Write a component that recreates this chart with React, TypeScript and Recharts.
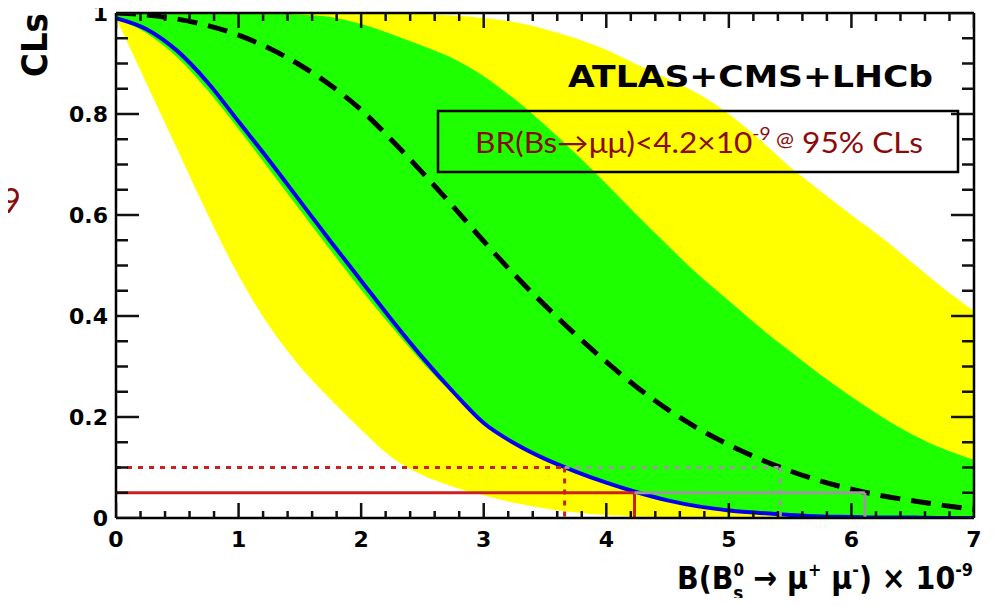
import React from 'react'
import { ComposedChart, Area, Line, Scatter, XAxis, YAxis, ReferenceLine } from 'recharts'

// B(Bs -> mu mu) x 1e-9 scan points
const xs = [0, 0.25, 0.5, 0.75, 1, 1.25, 1.5, 1.75, 2, 2.25, 2.5, 2.75, 3, 3.25, 3.5, 3.75, 4, 4.25, 4.5, 4.75, 5, 5.25, 5.5, 5.75, 6, 6.25, 6.5, 6.75, 7]

// observed CLs (blue)
const observed = [0.99, 0.968, 0.925, 0.862, 0.785, 0.708, 0.628, 0.548, 0.47, 0.392, 0.318, 0.25, 0.188, 0.148, 0.117, 0.092, 0.07, 0.051, 0.035, 0.023, 0.015, 0.01, 0.006, 0.003, 0.002, 0.001, 0.001, 0, 0]
// expected median CLs (black dashed)
const expected = [1.0, 0.996, 0.988, 0.975, 0.956, 0.93, 0.897, 0.857, 0.808, 0.748, 0.684, 0.617, 0.548, 0.482, 0.421, 0.363, 0.309, 0.259, 0.215, 0.177, 0.145, 0.117, 0.093, 0.073, 0.057, 0.044, 0.034, 0.025, 0.017]
// +-1 sigma band (green)
const band1Lo = [0.988, 0.96, 0.912, 0.846, 0.77, 0.69, 0.61, 0.53, 0.452, 0.378, 0.308, 0.245, 0.186, 0.146, 0.116, 0.091, 0.069, 0.05, 0.034, 0.022, 0.014, 0.009, 0.005, 0.003, 0.002, 0.001, 0.001, 0, 0]
const band1Hi = [1.0, 1.0, 1.0, 1.0, 1.0, 0.999, 0.997, 0.992, 0.978, 0.958, 0.935, 0.91, 0.875, 0.83, 0.778, 0.722, 0.662, 0.6, 0.54, 0.482, 0.43, 0.378, 0.33, 0.283, 0.24, 0.2, 0.165, 0.137, 0.115]
// +-2 sigma band (yellow)
const band2Lo = [0.99, 0.86, 0.73, 0.6, 0.48, 0.38, 0.3, 0.235, 0.175, 0.12, 0.085, 0.062, 0.045, 0.03, 0.019, 0.011, 0.006, 0.003, 0.001, 0, 0, 0, 0, 0, 0, 0, 0, 0, 0]
const band2Hi = [1.0, 1.0, 1.0, 1.0, 1.0, 1.0, 1.0, 1.0, 1.0, 0.999, 0.998, 0.995, 0.99, 0.982, 0.968, 0.95, 0.927, 0.898, 0.87, 0.84, 0.8, 0.75, 0.695, 0.647, 0.6, 0.555, 0.505, 0.455, 0.41]

const clLevels = [0.05, 0.1]
const obsLimits = [4.23, 3.66] // 95%, 90%
const expLimits = [6.11, 5.42]

const xMajor = [0, 1, 2, 3, 4, 5, 6, 7]
const yMajorLabels = ['0', '0.2', '0.4', '0.6', '0.8', '1']
const xTicks = Array.from({ length: 36 }, (_, i) => +(i * 0.2).toFixed(1))
const yTicks = Array.from({ length: 21 }, (_, i) => +(i * 0.05).toFixed(2))

const rows = xs.map((x, i) => ({
  x,
  obs: observed[i],
  exp: expected[i],
  band1: [band1Lo[i], band1Hi[i]],
  band2: [band2Lo[i], band2Hi[i]],
}))

const AX = '#000'
const RED = '#cc2020'
const GREY = '#9a9a9a'
const bold = { fontFamily: '"DejaVu Sans", sans-serif', fontWeight: 700 }

const isYMajor = (v: number) => Math.abs(v * 5 - Math.round(v * 5)) < 1e-6

// inward tick marks on the frame (ROOT style); dx/dy is the tick in pixels
const frameTicks = [
  ...xTicks.map(v => ({ x: v, y: 0, dx: 0, dy: xMajor.includes(v) ? -15 : -7 })),
  ...xTicks.map(v => ({ x: v, y: 1, dx: 0, dy: xMajor.includes(v) ? 15 : 8 })),
  ...yTicks.map(v => ({ x: 0, y: v, dx: isYMajor(v) ? 23 : 12, dy: 0 })),
  ...yTicks.map(v => ({ x: 7, y: v, dx: isYMajor(v) ? -23 : -12, dy: 0 })),
]

const TickMark = (p: any) => {
  const d = p.payload ?? p
  if (!Number.isFinite(p.cx) || !Number.isFinite(p.cy)) return <g />
  return <path d={`M${p.cx},${p.cy} l${d.dx},${d.dy}`} stroke="#111" strokeWidth={2.5} fill="none" />
}

const BottomLabel = ({ x, y, payload }: any) =>
  xMajor.includes(payload.value) ? (
    <text x={x} y={y + 29} textAnchor="middle" fill="#000" style={{ ...bold, fontSize: 22 }}>
      {payload.value}
    </text>
  ) : <g />

const LeftLabel = ({ x, y, payload }: any) =>
  isYMajor(payload.value) ? (
    <text x={x - 8} y={y + 8} textAnchor="end" fill="#000" style={{ ...bold, fontSize: 22 }}>
      {yMajorLabels[Math.round(payload.value * 5)]}
    </text>
  ) : <g />

export default function App() {
  return (
    <div style={{ position: 'relative', width: 980, height: 590 }}>
      <ComposedChart width={980} height={590} data={rows} margin={{ top: 3, right: 12, bottom: 40, left: 48 }}>
        <XAxis
          dataKey="x" type="number" domain={[0, 7]} ticks={xTicks} interval={0} height={40}
          axisLine={{ stroke: AX, strokeWidth: 2.5 }} tickLine={false} tickSize={0} tickMargin={0}
          tick={(p: any) => <BottomLabel {...p} />} allowDataOverflow
        />
        <XAxis
          xAxisId="top" orientation="top" dataKey="x" type="number" domain={[0, 7]} ticks={xMajor} height={2}
          axisLine={{ stroke: AX, strokeWidth: 2.5 }} tickLine={false} tick={false} allowDataOverflow
        />
        <YAxis
          dataKey="y" type="number" domain={[0, 1]} ticks={yTicks} interval={0} width={60}
          axisLine={{ stroke: AX, strokeWidth: 2.5 }} tickLine={false} tickSize={0} tickMargin={0}
          tick={(p: any) => <LeftLabel {...p} />} allowDataOverflow
        />
        <YAxis
          yAxisId="right" orientation="right" type="number" domain={[0, 1]} width={2}
          axisLine={{ stroke: AX, strokeWidth: 2.5 }} tickLine={false} tick={false} allowDataOverflow
        />

        <Area type="monotone" dataKey="band2" stroke="none" fill="#ffff00" fillOpacity={1} isAnimationActive={false} />
        <Area type="monotone" dataKey="band1" stroke="none" fill="#1eff00" fillOpacity={1} isAnimationActive={false} />
        <Line type="monotone" dataKey="obs" stroke="#0000f0" strokeWidth={4} dot={false} activeDot={false} isAnimationActive={false} />
        <Line type="monotone" dataKey="exp" stroke="#000" strokeWidth={5} strokeDasharray="20 11" dot={false} activeDot={false} isAnimationActive={false} />

        {/* 90% (dotted) and 95% (solid) CL markers */}
        <ReferenceLine segment={[{ x: 0, y: clLevels[0] }, { x: obsLimits[0], y: clLevels[0] }]} stroke={RED} strokeWidth={3} />
        <ReferenceLine segment={[{ x: obsLimits[0], y: clLevels[0] }, { x: obsLimits[0], y: 0 }]} stroke={RED} strokeWidth={3} />
        <ReferenceLine segment={[{ x: 0, y: clLevels[1] }, { x: obsLimits[1], y: clLevels[1] }]} stroke={RED} strokeWidth={3} strokeDasharray="5 6" />
        <ReferenceLine segment={[{ x: obsLimits[1], y: clLevels[1] }, { x: obsLimits[1], y: 0 }]} stroke={RED} strokeWidth={3} strokeDasharray="5 6" />
        <ReferenceLine segment={[{ x: obsLimits[0], y: clLevels[0] }, { x: expLimits[0], y: clLevels[0] }]} stroke={GREY} strokeWidth={3} />
        <ReferenceLine segment={[{ x: expLimits[0], y: clLevels[0] }, { x: expLimits[0], y: 0 }]} stroke={GREY} strokeWidth={3} />
        <ReferenceLine segment={[{ x: obsLimits[1], y: clLevels[1] }, { x: expLimits[1], y: clLevels[1] }]} stroke={GREY} strokeWidth={3} strokeDasharray="5 6" />
        <ReferenceLine segment={[{ x: expLimits[1], y: clLevels[1] }, { x: expLimits[1], y: 0 }]} stroke={GREY} strokeWidth={3} strokeDasharray="5 6" />

        <Scatter data={frameTicks} dataKey="y" fill="#111" shape={(p: any) => <TickMark {...p} />} isAnimationActive={false} />
      </ComposedChart>

      {/* text overlay in page pixel coordinates */}
      <svg width={996} height={606} style={{ position: 'absolute', left: -8, top: -8, overflow: 'visible', pointerEvents: 'none' }}>
        <text transform="translate(47,77) rotate(-90)" textLength={64} lengthAdjust="spacingAndGlyphs" fill="#000" style={{ ...bold, fontSize: 36 }}>CLs</text>
        <text x={568} y={87} textLength={365} lengthAdjust="spacingAndGlyphs" fill="#000" style={{ ...bold, fontSize: 30 }}>ATLAS+CMS+LHCb</text>

        <rect x={438} y={111} width={520} height={61} fill="none" stroke="#000" strokeWidth={2.5} />
        <text x={475} y={153} textLength={448} lengthAdjust="spacingAndGlyphs" fill="#8b0a0a" style={{ fontFamily: 'Lato, sans-serif', fontSize: 28 }}>
          BR(Bs→μμ)&lt;4.2×10<tspan dy={-13} style={{ fontSize: 17 }}>-9</tspan>
          <tspan dy={6} style={{ fontSize: 19 }}> @</tspan>
          <tspan dy={7}> 95% CLs</tspan>
        </text>

        <text x={21} y={213} textAnchor="end" fill="#8b0a0a" style={{ fontFamily: 'Lato, sans-serif', fontSize: 34 }}>-9</text>

        <text x={677} y={589} textLength={296} lengthAdjust="spacingAndGlyphs" fill="#000" style={{ ...bold, fontSize: 32 }}>
          B(B<tspan dy={-13} style={{ fontSize: 17 }}>0</tspan>
          <tspan dx={-12} dy={24} style={{ fontSize: 19 }}>s</tspan>
          <tspan dy={-11}> → μ</tspan>
          <tspan dy={-13} style={{ fontSize: 18 }}>+</tspan>
          <tspan dy={13}> μ</tspan>
          <tspan dy={-13} style={{ fontSize: 18 }}>-</tspan>
          <tspan dy={13}>) × 10</tspan>
          <tspan dy={-13} style={{ fontSize: 18 }}>-9</tspan>
        </text>
      </svg>
    </div>
  )
}
